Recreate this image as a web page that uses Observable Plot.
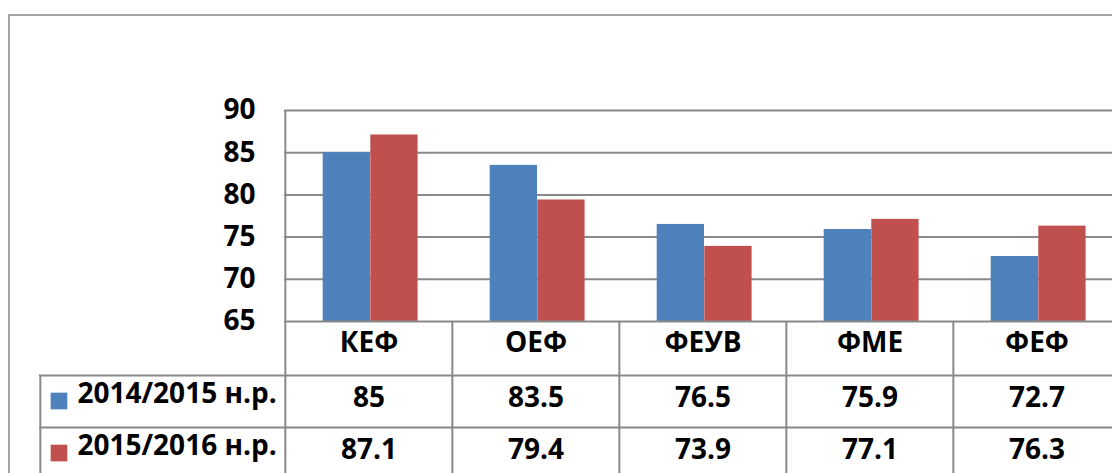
<!DOCTYPE html>
<html><head><meta charset="utf-8">
<script src="https://cdn.jsdelivr.net/npm/d3@7"></script>
<script src="https://cdn.jsdelivr.net/npm/@observablehq/plot@0.6"></script>
<style>
html,body{margin:0;padding:0;background:#fff;overflow:hidden;}
#wrap{position:relative;width:1112px;height:473px;overflow:hidden;}
#wrap svg{max-width:none !important;display:block;}
#border{position:absolute;left:8px;top:14px;width:1200px;height:600px;border-left:2px solid #a3a3a3;border-top:2px solid #a3a3a3;pointer-events:none;}
</style></head><body><div id="wrap"></div>
<script>
const categories = ["КЕФ", "ОЕФ", "ФЕУВ", "ФМЕ", "ФЕФ"];
const seriesNames = ["2014/2015 н.р.", "2015/2016 н.р."];
const values2014 = [85, 83.5, 76.5, 75.9, 72.7];
const values2016 = [87.1, 79.4, 73.9, 77.1, 76.3];
const yTicks = [65, 70, 75, 80, 85, 90];
const colors = ["#4F81BD", "#C0504D"];

const W = 1112, H = 473;
const mL = 284, mR = -8.5, mT = 110, mB = 152;
const bw = (W - mL - mR) / categories.length;
const rows = categories.map((c, i) => ({cat: c, a: values2014[i], b: values2016[i]}));
const gray = "#898989";
const fs = 28;
const tableLeft = 39 - mL;
const fontOpts = {fontSize: fs, fontWeight: "bold", fill: "#000"};

const chart = Plot.plot({
  width: W, height: H,
  marginLeft: mL, marginRight: mR, marginTop: mT, marginBottom: mB,
  style: {fontFamily: "'Open Sans', sans-serif", fontWeight: "bold", fontSize: fs + "px", color: "#000", background: "transparent", maxWidth: "none"},
  x: {type: "band", domain: categories, padding: 0, axis: null},
  y: {domain: [65, 90], label: null},
  marks: [
    Plot.ruleY(yTicks.slice(1), {stroke: gray, strokeWidth: 2}),
    Plot.barY(rows, {x: "cat", y1: 65, y2: "a", fill: colors[0], insetLeft: 0.2253 * bw, insetRight: 0.4902 * bw}),
    Plot.barY(rows, {x: "cat", y1: 65, y2: "b", fill: colors[1], insetLeft: 0.5098 * bw, insetRight: 0.2057 * bw}),
    Plot.axisY({ticks: yTicks, tickSize: 0, tickPadding: 29, label: null, fontSize: fs, fontWeight: "bold"}),
    // plot area left border
    Plot.ruleX([categories[0]], {x: d => d, dx: -bw / 2, stroke: gray, strokeWidth: 2}),
    // baseline and table row lines
    Plot.ruleY([65], {stroke: gray, strokeWidth: 2}),
    Plot.ruleY([65], {dy: 54, insetLeft: tableLeft, stroke: gray, strokeWidth: 2}),
    Plot.ruleY([65], {dy: 106, insetLeft: tableLeft, stroke: gray, strokeWidth: 2}),
    // table column lines
    Plot.ruleX(categories, {x: d => d, y1: 65, y2: 65, dx: -bw / 2, insetBottom: -170, stroke: gray, strokeWidth: 2}),
    Plot.ruleX([categories[0]], {x: d => d, y1: 65, y2: 65, dx: -bw / 2 + tableLeft, insetTop: 54, insetBottom: -170, stroke: gray, strokeWidth: 2}),
    // header row
    Plot.text(categories, {x: d => d, text: d => d, frameAnchor: "bottom", dy: 30, ...fontOpts}),
    // values
    Plot.text(rows, {x: "cat", text: d => String(d.a), frameAnchor: "bottom", dy: 85, ...fontOpts}),
    Plot.text(rows, {x: "cat", text: d => String(d.b), frameAnchor: "bottom", dy: 137, ...fontOpts}),
    // series labels
    Plot.text([seriesNames[0]], {text: d => d, frameAnchor: "bottom-left", dx: 77 - mL, dy: 81, textAnchor: "start", ...fontOpts}),
    Plot.text([seriesNames[1]], {text: d => d, frameAnchor: "bottom-left", dx: 77 - mL, dy: 133, textAnchor: "start", ...fontOpts}),
    Plot.dot([seriesNames[0]], {frameAnchor: "bottom-left", dx: 58.5 - mL, dy: 79.5, symbol: "square", r: 9.4, fill: colors[0], stroke: null}),
    Plot.dot([seriesNames[1]], {frameAnchor: "bottom-left", dx: 58.5 - mL, dy: 131.5, symbol: "square", r: 9.4, fill: colors[1], stroke: null})
  ]
});
const wrap = document.getElementById("wrap");
wrap.appendChild(chart);
const b = document.createElement("div");
b.id = "border";
wrap.appendChild(b);
</script>
</body></html>
